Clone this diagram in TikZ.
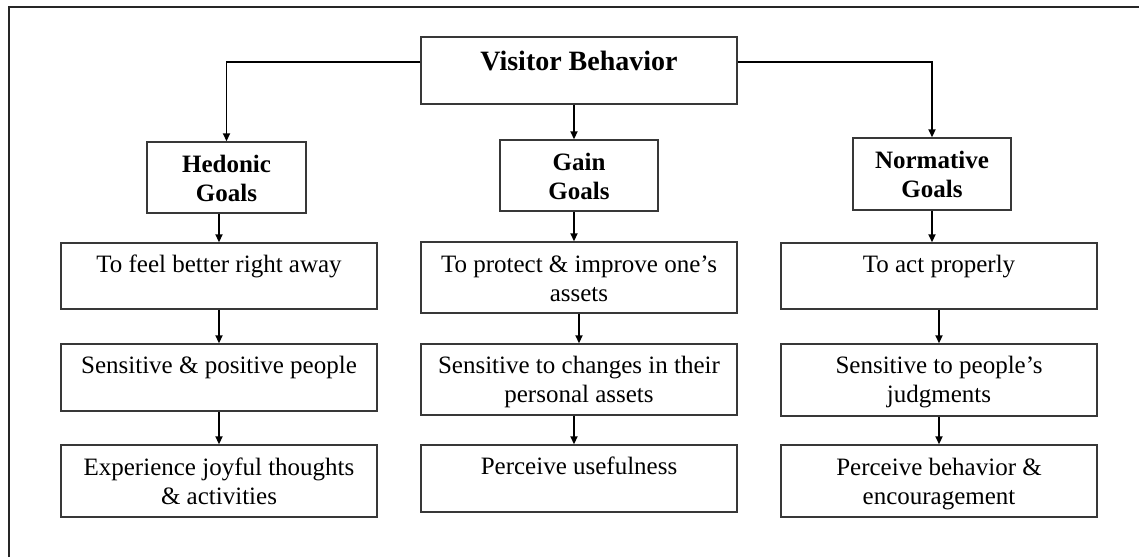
\documentclass[tikz,border=0pt]{standalone}
\usepackage{fontspec}
\setmainfont{Liberation Serif}
\usetikzlibrary{arrows.meta}

% box from corner (x1,y1) to (x2,y2), y measured downward
\newcommand{\gbox}[5]{%
  \node[gbox, minimum width={(#4-#2)*1pt}, minimum height={(#5-#3)*1pt}]
    (#1) at ({(#2+#4)/2},{(#3+#5)/2}) {};}
% centred text whose first baseline sits at (x,y)
\newcommand{\gtext}[4]{%
  \node[gtxt] (#1) at (#2,#3) {\begin{tabular}[t]{@{}c@{}}#4\end{tabular}};}

\begin{document}
\begin{tikzpicture}[x=1pt, y=-1pt,
  gbox/.style={draw=black!78, line width=1.4pt, fill=white, inner sep=0pt},
  gtxt/.style={anchor=base, inner sep=0pt, font=\fontsize{25}{29}\selectfont},
  arr/.style={line width=1.8pt, -{Triangle[length=8pt, width=7pt]}},
  frame/.style={draw=black!85, line width=1.4pt}]
\useasboundingbox (0,0) rectangle (1139,557);

% partial outer frame
\draw[frame] (9,557) -- (9,7) -- (1139,7);

% top box
\gbox{vb}{421}{37}{737}{104}
\node[gtxt, font=\fontsize{28}{32}\selectfont\bfseries] (vbt) at (579,70) {Visitor Behavior};

% goal boxes
\gbox{hed}{147}{142}{306}{213}
\gtext{hedt}{226.5}{172}{\bfseries Hedonic\\\bfseries Goals}
\gbox{gain}{500}{140}{658}{211}
\gtext{gaint}{579}{170}{\bfseries Gain\\\bfseries Goals}
\gbox{nor}{853}{138}{1011}{210}
\gtext{nort}{932}{168}{\bfseries Normative\\\bfseries Goals}

% left column
\gbox{l1}{61}{243}{377}{309}
\gtext{l1t}{219}{272}{To feel better right away}
\gbox{l2}{61}{344}{377}{411}
\gtext{l2t}{219}{373}{Sensitive \& positive people}
\gbox{l3}{61}{445}{377}{517}
\gtext{l3t}{219}{475}{Experience joyful thoughts\\\& activities}

% middle column
\gbox{m1}{421}{242}{737}{313}
\gtext{m1t}{579}{272}{To protect \& improve one’s\\assets}
\gbox{m2}{421}{344}{737}{415}
\gtext{m2t}{579}{373}{Sensitive to changes in their\\personal assets}
\gbox{m3}{421}{445}{737}{512}
\gtext{m3t}{579}{474}{Perceive usefulness}

% right column
\gbox{r1}{781}{243}{1097}{309}
\gtext{r1t}{939}{272}{To act properly}
\gbox{r2}{781}{344}{1097}{416}
\gtext{r2t}{939}{373}{Sensitive to people’s\\judgments}
\gbox{r3}{781}{445}{1097}{517}
\gtext{r3t}{939}{475}{Perceive behavior \&\\encouragement}

% connectors from the top box
\draw[arr] ([yshift=8.5pt]vb.west) -| (hed.north);
\draw[arr] ([yshift=8.5pt]vb.east) -| (nor.north);
\draw[arr] ([xshift=-5pt]vb.south) -- ([xshift=-5pt]gain.north);

% left chain
\draw[arr] (hed.south -| l1.north) -- (l1.north);
\draw[arr] (l1.south) -- (l2.north);
\draw[arr] (l2.south) -- (l3.north);

% middle chain
\draw[arr] ([xshift=-5pt]gain.south) -- ([xshift=-5pt]m1.north);
\draw[arr] (m1.south) -- (m2.north);
\draw[arr] ([xshift=-5pt]m2.south) -- ([xshift=-5pt]m3.north);

% right chain
\draw[arr] (nor.south) -- (nor.south |- r1.north);
\draw[arr] (r1.south) -- (r2.north);
\draw[arr] (r2.south) -- (r3.north);
\end{tikzpicture}
\end{document}
